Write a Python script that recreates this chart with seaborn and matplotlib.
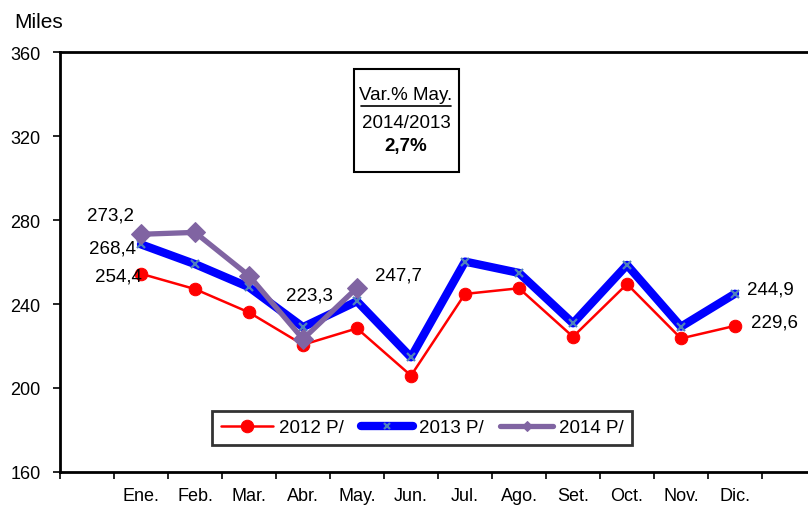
import matplotlib
matplotlib.use('Agg')
import matplotlib.pyplot as plt
from matplotlib.patches import Rectangle
from matplotlib.lines import Line2D
import numpy as np
import pandas as pd
import seaborn as sns


MONTHS = ['Ene.', 'Feb.', 'Mar.', 'Abr.', 'May.', 'Jun.',
          'Jul.', 'Ago.', 'Set.', 'Oct.', 'Nov.', 'Dic.']
VALUES_2012 = [254.4, 247.1, 236.0, 220.6, 228.4, 205.9, 244.8, 247.5, 224.4, 249.5, 223.6, 229.6]
VALUES_2013 = [268.4, 259.0, 248.0, 229.0, 241.3, 214.6, 260.2, 254.8, 230.8, 258.6, 229.2, 244.9]
VALUES_2014 = [273.2, 274.1, 253.5, 223.3, 247.7]
SERIES_NAMES = ['2012 P/', '2013 P/', '2014 P/']
Y_TICKS = [160, 200, 240, 280, 320, 360]

BOX_LINES = ['Var.% May.', '2014/2013', '2,7%']

FONT = ['Liberation Sans', 'DejaVu Sans']


def fmt(v):
    return f'{v:.1f}'.replace('.', ',')


def build_frame():
    rows = []
    for name, values in zip(SERIES_NAMES, [VALUES_2012, VALUES_2013, VALUES_2014]):
        for i, v in enumerate(values):
            rows.append({'serie': name, 'pos': i + 1, 'value': v})
    return pd.DataFrame(rows)


def main():
    sns.set_theme(style='white')
    plt.rcParams['font.family'] = FONT
    plt.rcParams['font.size'] = 13
    for key in ['text.color', 'axes.labelcolor', 'xtick.color', 'ytick.color',
                'xtick.labelcolor', 'ytick.labelcolor', 'legend.labelcolor']:
        plt.rcParams[key] = 'black'

    df = build_frame()

    fig = plt.figure(figsize=(8.08, 5.10), dpi=100)
    ax = fig.add_axes([60 / 808, 37 / 510, 810 / 808, 420 / 510])

    styles = {
        '2012 P/': dict(color='#FF0000', lw=1.8, marker='o', markersize=9,
                        markeredgecolor='#FF0000', markerfacecolor='#FF0000'),
        '2013 P/': dict(color='#0000FF', lw=6, marker='x', markersize=6,
                        markeredgecolor='#4F81BD', markeredgewidth=1.6),
        '2014 P/': dict(color='#8064A2', lw=3.8, marker='D', markersize=10,
                        markeredgecolor='#8064A2', markerfacecolor='#8064A2'),
    }

    for name in SERIES_NAMES:
        sub = df[df['serie'] == name]
        sns.lineplot(data=sub, x='pos', y='value', ax=ax, label=name,
                     solid_capstyle='round', solid_joinstyle='round', **styles[name])

    ax.set_xlim(-0.5, 14.5)
    ax.set_ylim(160, 360)
    ax.set_yticks(Y_TICKS)
    ax.set_yticklabels([str(t) for t in Y_TICKS])

    ax.set_xticks(np.arange(-0.5, 14.5, 1.0))
    ax.set_xticklabels([])
    ax.set_xticks(np.arange(1, len(MONTHS) + 1), minor=True)
    ax.set_xticklabels(MONTHS, minor=True)
    ax.tick_params(axis='x', which='major', direction='out', length=5, width=1.2,
                   color='black', bottom=True)
    ax.tick_params(axis='x', which='minor', length=0, pad=11, labelsize=13,
                   labelcolor='black')
    ax.tick_params(axis='y', direction='out', length=5, width=1.2, color='black',
                   left=True, pad=9, labelsize=13, labelcolor='black')
    ax.set_xlabel('')
    ax.set_ylabel('')
    ax.grid(False)

    for side in ['left', 'top', 'bottom', 'right']:
        ax.spines[side].set_color('black')
        ax.spines[side].set_linewidth(2)

    # etiquetas de datos
    labels = [
        (VALUES_2014, 0, 'center', (-21.6, 13.7)),
        (VALUES_2013, 0, 'right', (-3.6, -2.9)),
        (VALUES_2012, 0, 'right', (0.7, -1.9)),
        (VALUES_2014, 3, 'center', (4.3, 32)),
        (VALUES_2014, 4, 'left', (13, 9.4)),
        (VALUES_2013, 11, 'left', (8.6, 3.4)),
        (VALUES_2012, 11, 'left', (11.5, 2.9)),
    ]
    for values, i, ha, off in labels:
        ax.annotate(fmt(values[i]), xy=(i + 1, values[i]), xytext=off,
                    textcoords='offset points', ha=ha, va='center',
                    fontsize=13.5, color='black')

    leg = ax.legend(loc='center', bbox_to_anchor=(0.447, 0.105), ncol=3,
                    frameon=True, fancybox=False, fontsize=13.5,
                    handlelength=2.8, handletextpad=0.3, columnspacing=0.9,
                    borderpad=0.45)
    leg.get_frame().set_edgecolor('black')
    leg.get_frame().set_linewidth(2)
    for t in leg.get_texts():
        t.set_color('black')
    handles = leg.legend_handles
    handles[1].set_markersize(4)
    handles[2].set_markersize(5)

    # recuadro de variación
    fig.add_artist(Rectangle((354 / 808, 1 - 173 / 510), 105 / 808, 103 / 510,
                             transform=fig.transFigure, fill=False,
                             edgecolor='black', lw=1.5))
    fig.text(406 / 808, 1 - 95 / 510, BOX_LINES[0], ha='center', va='center',
             fontsize=13.5, color='black')
    fig.add_artist(Line2D([361 / 808, 451 / 808], [1 - 107 / 510, 1 - 107 / 510],
                          transform=fig.transFigure, color='black', lw=1.2))
    fig.text(406 / 808, 1 - 123 / 510, BOX_LINES[1], ha='center', va='center',
             fontsize=13.5, color='black')
    fig.text(406 / 808, 1 - 146 / 510, BOX_LINES[2], ha='center', va='center',
             fontsize=13.5, fontweight='bold', color='black')

    fig.text(14 / 808, 1 - 22 / 510, 'Miles', ha='left', va='center',
             fontsize=15, color='black')

    fig.savefig('out.png', dpi=100)


if __name__ == '__main__':
    main()
